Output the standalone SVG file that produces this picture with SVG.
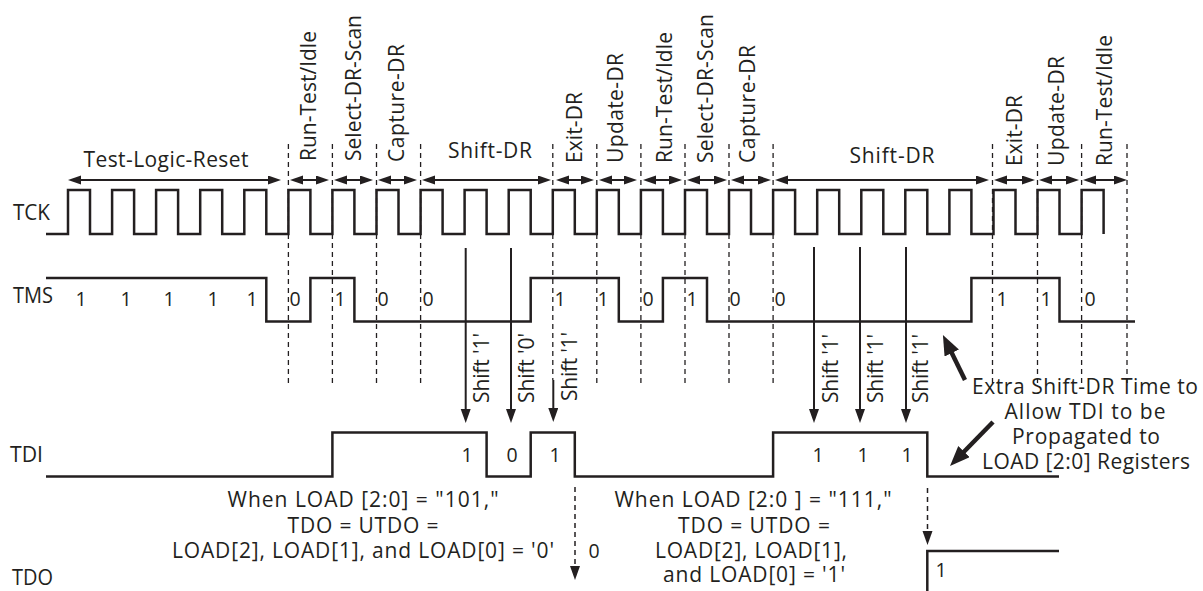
<svg xmlns="http://www.w3.org/2000/svg" width="1203" height="591" viewBox="0 0 1203 591">
<style>
.t{font-family:"Open Sans","Liberation Sans",sans-serif;font-size:21px;fill:#231f20}
.d{font-family:"Open Sans","Liberation Sans",sans-serif;font-size:19.5px;fill:#231f20;text-anchor:middle}
.m{text-anchor:middle}
.w{fill:none;stroke:#231f20;stroke-width:2.5;stroke-linejoin:miter}
.dash{fill:none;stroke:#231f20;stroke-width:1.3;stroke-dasharray:5,4}
.dbl{stroke:#231f20;stroke-width:2;marker-start:url(#ah);marker-end:url(#ah)}
.sh{stroke:#231f20;stroke-width:2;marker-end:url(#sa)}
.fat{stroke:#231f20;stroke-width:4.5;marker-end:url(#fa)}
.dar{fill:none;stroke:#231f20;stroke-width:1.5;stroke-dasharray:5,4;marker-end:url(#sa)}
</style>
<defs>
<marker id="ah" markerUnits="userSpaceOnUse" markerWidth="14" markerHeight="10" refX="4" refY="4.5" orient="auto-start-reverse"><path d="M0,0 L13,4.5 L0,9 z" fill="#231f20"/></marker>
<marker id="sa" markerUnits="userSpaceOnUse" markerWidth="15" markerHeight="11" refX="4" refY="5" orient="auto"><path d="M0,0 L14,5 L0,10 z" fill="#231f20"/></marker>
<marker id="fa" markerUnits="userSpaceOnUse" markerWidth="21" markerHeight="17" refX="6" refY="8" orient="auto"><path d="M0,0 L20,8 L0,16 z" fill="#231f20"/></marker>
</defs>
<rect width="1203" height="591" fill="#ffffff"/>

<g id="signal-names">
<text class="t" x="13" y="220" textLength="37" lengthAdjust="spacingAndGlyphs">TCK</text>
<text class="t" x="13" y="303" textLength="40" lengthAdjust="spacingAndGlyphs">TMS</text>
<text class="t" x="10" y="462" textLength="33" lengthAdjust="spacingAndGlyphs">TDI</text>
<text class="t" x="12" y="585" textLength="41" lengthAdjust="spacingAndGlyphs">TDO</text>
</g>

<g id="grid">
<path class="dash" d="M288.4,144V385M332.4,144V385M376.5,144V385M420.6,144V385M552.8,144V380M596.8,144V385M640.9,144V385M685,144V385M729,144V385M773.1,144V385M992.5,144V385M1037.5,144V385M1081.6,144V385M1127,144V385"/>
</g>

<g id="tck">
<path class="w" d="M46,234 H68 V190 H90 V234 H112.1 V190 H134.1 V234 H156.1 V190 H178.1 V234 H200.2 V190 H222.2 V234 H244.3 V190 H266.3 V234 H288.4 V190 H310.4 V234 H332.4 V190 H354.4 V234 H376.5 V190 H398.5 V234 H420.6 V190 H442.6 V234 H464.6 V190 H486.6 V234 H508.7 V190 H530.7 V234 H552.8 V190 H574.8 V234 H596.8 V190 H618.8 V234 H640.9 V190 H662.9 V234 H685 V190 H707 V234 H729 V190 H751 V234 H773.1 V190 H795.1 V234 H817.2 V190 H839.2 V234 H861.3 V190 H883.3 V234 H905.3 V190 H927.3 V234 H949.4 V190 H971.4 V234 H993.5 V190 H1015.5 V234 H1037.5 V190 H1059.5 V234 H1081.6 V190 H1103.6 V234"/>
</g>

<g id="states">
<text class="t m" x="166" y="167" textLength="165" lengthAdjust="spacing">Test-Logic-Reset</text>
<text class="t" transform="translate(316,161) rotate(-90)" textLength="130" lengthAdjust="spacing">Run-Test/Idle</text>
<text class="t" transform="translate(360.5,161) rotate(-90)" textLength="146" lengthAdjust="spacing">Select-DR-Scan</text>
<text class="t" transform="translate(404,162) rotate(-90)" textLength="118" lengthAdjust="spacing">Capture-DR</text>
<text class="t m" x="490" y="158" textLength="84" lengthAdjust="spacing">Shift-DR</text>
<text class="t" transform="translate(582,163) rotate(-90)" textLength="71" lengthAdjust="spacing">Exit-DR</text>
<text class="t" transform="translate(623,163) rotate(-90)" textLength="110" lengthAdjust="spacing">Update-DR</text>
<text class="t" transform="translate(672,163) rotate(-90)" textLength="131" lengthAdjust="spacing">Run-Test/Idle</text>
<text class="t" transform="translate(713,163) rotate(-90)" textLength="149" lengthAdjust="spacing">Select-DR-Scan</text>
<text class="t" transform="translate(755,163) rotate(-90)" textLength="118" lengthAdjust="spacing">Capture-DR</text>
<text class="t m" x="892" y="163" textLength="85" lengthAdjust="spacing">Shift-DR</text>
<text class="t" transform="translate(1022,166) rotate(-90)" textLength="71" lengthAdjust="spacing">Exit-DR</text>
<text class="t" transform="translate(1064,166) rotate(-90)" textLength="110" lengthAdjust="spacing">Update-DR</text>
<text class="t" transform="translate(1112,166) rotate(-90)" textLength="131" lengthAdjust="spacing">Run-Test/Idle</text>
</g>

<g id="tms">
<path class="w" d="M46,278 H266.3 V321.5 H310.4 V278 H354.4 V321.5 H530.7 V278 H618.8 V321.5 H662.9 V278 H707 V321.5 H971.4 V278 H1059.5 V321.5 H1135"/>
<text class="d" x="81" y="306">1</text>
<text class="d" x="126" y="306">1</text>
<text class="d" x="169" y="306">1</text>
<text class="d" x="213" y="306">1</text>
<text class="d" x="252" y="306">1</text>
<text class="d" x="295" y="306">0</text>
<text class="d" x="340" y="306">1</text>
<text class="d" x="383" y="306">0</text>
<text class="d" x="428" y="306">0</text>
<text class="d" x="560" y="306">1</text>
<text class="d" x="603" y="306">1</text>
<text class="d" x="648" y="306">0</text>
<text class="d" x="692" y="306">1</text>
<text class="d" x="735" y="306">0</text>
<text class="d" x="780" y="306">0</text>
<text class="d" x="1002" y="306">1</text>
<text class="d" x="1046" y="306">1</text>
<text class="d" x="1090" y="306">0</text>
</g>

<g id="tdi">
<path class="w" d="M46,476.5 H332.4 V432.5 H486.6 V476.5 H530.7 V432.5 H574.8 V476.5 H773.1 V432.5 H927.3 V476.5 H1059"/>
<text class="d" x="467" y="462">1</text>
<text class="d" x="512" y="462">0</text>
<text class="d" x="555" y="462">1</text>
<text class="d" x="818" y="462">1</text>
<text class="d" x="863" y="462">1</text>
<text class="d" x="907" y="462">1</text>
</g>

<g id="tdo">
<path class="w" d="M927.3,591 V551 H1059"/>
<text class="d" x="594" y="558">0</text>
<text class="d" x="941" y="577">1</text>
</g>

<g id="shift-labels">
<text class="t" transform="translate(489,403) rotate(-90)" textLength="70" lengthAdjust="spacing">Shift '1'</text>
<text class="t" transform="translate(534,403) rotate(-90)" textLength="70" lengthAdjust="spacing">Shift '0'</text>
<text class="t" transform="translate(577,401) rotate(-90)" textLength="69" lengthAdjust="spacing">Shift '1'</text>
<text class="t" transform="translate(838,403) rotate(-90)" textLength="69" lengthAdjust="spacing">Shift '1'</text>
<text class="t" transform="translate(883,403) rotate(-90)" textLength="69" lengthAdjust="spacing">Shift '1'</text>
<text class="t" transform="translate(928,403) rotate(-90)" textLength="69" lengthAdjust="spacing">Shift '1'</text>
</g>

<g id="note-101">
<text class="t m" x="363" y="507" textLength="271" lengthAdjust="spacing">When LOAD [2:0] = "101,"</text>
<text class="t m" x="363" y="533" textLength="151" lengthAdjust="spacing">TDO = UTDO =</text>
<text class="t m" x="363" y="558" textLength="382" lengthAdjust="spacing">LOAD[2], LOAD[1], and LOAD[0] = '0'</text>
</g>

<g id="note-111">
<text class="t m" x="753" y="507" textLength="277" lengthAdjust="spacing">When LOAD [2:0 ] = "111,"</text>
<text class="t m" x="754" y="533" textLength="152" lengthAdjust="spacing">TDO = UTDO =</text>
<text class="t m" x="751" y="558" textLength="192" lengthAdjust="spacing">LOAD[2], LOAD[1],</text>
<text class="t m" x="754" y="582" textLength="182" lengthAdjust="spacing">and LOAD[0] = '1'</text>
</g>

<g id="note-extra">
<text class="t m" x="1085" y="394" textLength="226" lengthAdjust="spacing">Extra Shift-DR Time to</text>
<text class="t m" x="1085" y="419" textLength="161" lengthAdjust="spacing">Allow TDI to be</text>
<text class="t m" x="1086" y="444" textLength="148" lengthAdjust="spacing">Propagated to</text>
<text class="t m" x="1086" y="469" textLength="208" lengthAdjust="spacing">LOAD [2:0] Registers</text>
</g>

<g id="connectors">
<line class="dbl" x1="77" y1="180" x2="272" y2="180"/>
<line class="dbl" x1="299" y1="180" x2="320" y2="180"/>
<line class="dbl" x1="343" y1="180" x2="364" y2="180"/>
<line class="dbl" x1="387" y1="180" x2="408" y2="180"/>
<line class="dbl" x1="431" y1="180" x2="542" y2="180"/>
<line class="dbl" x1="565" y1="180" x2="585" y2="180"/>
<line class="dbl" x1="608" y1="180" x2="628" y2="180"/>
<line class="dbl" x1="652" y1="180" x2="673" y2="180"/>
<line class="dbl" x1="696" y1="180" x2="718" y2="180"/>
<line class="dbl" x1="740" y1="180" x2="762" y2="180"/>
<line class="dbl" x1="784" y1="180" x2="980" y2="180"/>
<line class="dbl" x1="1003" y1="180" x2="1026" y2="180"/>
<line class="dbl" x1="1048" y1="180" x2="1070" y2="180"/>
<line class="dbl" x1="1092" y1="180" x2="1118" y2="180"/>
<line class="sh" x1="465.7" y1="248" x2="465.7" y2="413"/>
<line class="sh" x1="511" y1="248" x2="511" y2="413"/>
<line class="sh" x1="553.3" y1="380" x2="553.3" y2="412"/>
<line class="sh" x1="814" y1="247" x2="814" y2="413"/>
<line class="sh" x1="860" y1="247" x2="860" y2="413"/>
<line class="sh" x1="906" y1="247" x2="906" y2="413"/>
<line class="dar" x1="575" y1="487" x2="575" y2="570"/>
<line class="dar" x1="927.5" y1="488" x2="927.5" y2="535"/>
<line class="fat" x1="965" y1="380" x2="949.1" y2="347.6"/>
<line class="fat" x1="993" y1="422" x2="959.8" y2="456"/>
</g>
</svg>
